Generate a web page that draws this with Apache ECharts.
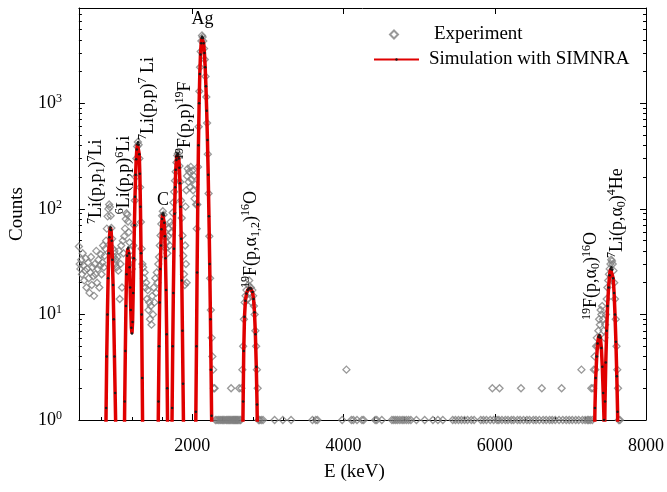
<!DOCTYPE html>
<html>
<head>
<meta charset="utf-8">
<script src="https://cdn.jsdelivr.net/npm/echarts@6/dist/echarts.min.js"></script>
<style>
    html, body { margin: 0; padding: 0; background: #fff; }
    #chart { width: 667px; height: 492px; }
</style>
</head>
<body>
<div id="chart"></div>
<script>
// ================* DATA *

// experiment, E (keV) / counts
var expLeft = [
    [500, 44], [510, 30], [520, 27], [530, 33], [540, 24], [550, 38], [560, 29], [570, 21], [580, 26], [590, 34],
    [600, 18], [610, 27], [620, 31], [630, 22], [640, 16], [650, 25], [660, 35], [670, 19], [680, 28], [690, 23],
    [700, 15], [710, 30], [720, 24], [730, 40], [740, 20], [750, 27], [760, 33], [770, 18], [780, 29], [790, 37],
    [800, 24], [810, 31], [820, 45], [830, 28], [840, 36], [850, 42],
    [860, 50], [870, 65], [880, 85], [890, 100], [900, 110], [910, 104], [920, 86], [930, 66], [940, 52], [950, 42],
    [960, 35], [970, 40], [980, 30], [990, 33], [1000, 28],
    [1010, 35], [1020, 26], [1030, 40], [1040, 14], [1050, 30], [1060, 45], [1070, 18], [1080, 50], [1090, 38], [1100, 55]
];

var expMid = [
    [1110, 65], [1120, 80], [1130, 91], [1140, 88], [1150, 76], [1160, 60], [1170, 48], [1180, 40], [1190, 32], [1200, 27],
    [1210, 33], [1220, 45], [1230, 70], [1240, 120], [1250, 200], [1260, 300], [1270, 390], [1280, 430], [1290, 405], [1300, 300],
    [1310, 160], [1320, 75], [1330, 42], [1340, 30],
    [1350, 28], [1360, 22], [1370, 25], [1380, 18], [1390, 20], [1400, 14], [1410, 17], [1420, 11], [1430, 13], [1440, 9],
    [1450, 12], [1460, 8], [1470, 15], [1480, 10], [1490, 18], [1500, 13], [1510, 22], [1520, 16], [1530, 25], [1540, 20],
    [1550, 30], [1560, 35], [1570, 45], [1580, 56], [1590, 72], [1600, 86], [1610, 95], [1620, 88], [1630, 70], [1640, 54],
    [1650, 42], [1660, 48], [1670, 38], [1680, 55], [1690, 65], [1700, 45], [1710, 75], [1720, 60],
    [1730, 70], [1740, 92], [1750, 115], [1760, 145], [1770, 185], [1780, 225], [1790, 275], [1800, 320], [1810, 335], [1820, 310],
    [1830, 255], [1840, 180], [1850, 120], [1860, 82], [1870, 56], [1880, 36], [1890, 24], [1900, 19]
];

var expHump = [
    [1905, 45], [1910, 105], [1915, 30], [1920, 150], [1925, 20], [1930, 205], [1940, 240], [1950, 180], [1960, 225], [1970, 160],
    [1980, 250], [1990, 190], [2000, 230], [2010, 150], [2020, 205], [2030, 125], [2040, 170], [2050, 110], [2058, 65]
];

var expAg = [
    [2066, 110], [2075, 250], [2084, 600], [2093, 1300], [2102, 2200], [2111, 3100], [2120, 3900], [2128, 4400], [2136, 4250], [2145, 3900],
    [2155, 3300], [2165, 2600], [2175, 1800], [2185, 1150], [2195, 650], [2205, 330], [2215, 140], [2225, 55], [2235, 22], [2245, 11],
    [2255, 6], [2265, 4], [2275, 3], [2285, 2], [2295, 2]
];

var expFlat = [
    [2306, 1], [2326, 1], [2345, 1], [2365, 1], [2380, 1], [2398, 1], [2412, 1], [2430, 1], [2448, 1], [2462, 1],
    [2478, 1], [2492, 1], [2505, 1], [2513, 2], [2522, 1], [2536, 1], [2548, 1], [2560, 1], [2572, 1], [2584, 1],
    [2596, 1], [2608, 1], [2620, 2], [2628, 1], [2640, 1],
    [2650, 2], [2662, 3], [2672, 5], [2682, 9], [2692, 13], [2704, 15], [2716, 17], [2728, 14], [2740, 19], [2752, 21],
    [2764, 16], [2774, 18], [2784, 13], [2794, 17], [2804, 15], [2814, 12], [2824, 10], [2834, 7], [2844, 5], [2854, 3],
    [2864, 2], [2876, 1], [2890, 1],
    [2912, 1], [2935, 1], [3088, 1], [3197, 1], [3306, 1], [3589, 1], [3633, 1], [3655, 1], [3982, 1], [4038, 3],
    [4104, 1], [4130, 1], [4178, 1], [4244, 1], [4266, 1], [4418, 1], [4440, 1], [4506, 1], [4640, 1], [4665, 1],
    [4690, 1], [4715, 1], [4745, 1], [4775, 1], [4800, 1], [4830, 1], [4860, 1], [4890, 1], [4964, 1], [5073, 1],
    [5182, 1], [5248, 1], [5313, 1], [5444, 1], [5480, 1], [5520, 1], [5560, 1], [5600, 1], [5640, 1], [5690, 1],
    [5727, 1], [5815, 1], [5850, 1], [5890, 1], [5940, 1], [5968, 2], [5985, 1], [6030, 1], [6054, 1], [6063, 2],
    [6095, 1], [6140, 1], [6175, 1], [6220, 1], [6250, 1], [6300, 1], [6335, 1], [6347, 2], [6380, 1], [6425, 1],
    [6460, 1], [6510, 1], [6545, 1], [6590, 1], [6622, 2], [6640, 1], [6680, 1], [6725, 1], [6760, 1], [6800, 1],
    [6850, 1], [6884, 2], [6900, 1], [6945, 1], [6985, 1], [7025, 1], [7070, 1], [7110, 1], [7146, 3], [7160, 1],
    [7195, 1], [7225, 1]
];

var expRight = [
    [7240, 1], [7262, 1], [7277, 2], [7290, 1], [7300, 2], [7310, 3], [7320, 4], [7330, 3], [7340, 5], [7350, 6],
    [7360, 5], [7370, 7], [7380, 9], [7390, 8], [7400, 11], [7410, 10], [7420, 12], [7430, 9], [7440, 7], [7450, 6],
    [7460, 8], [7470, 10], [7480, 14], [7490, 18], [7500, 21], [7510, 24], [7520, 27], [7530, 30], [7540, 33], [7550, 32],
    [7560, 30], [7570, 26], [7580, 20], [7590, 14], [7600, 9], [7610, 5], [7620, 3], [7630, 2], [7640, 1], [7655, 1]
];

// simulation (SIMNRA), one array per peak
var simLiP1 = [[852, 0.4], [860, 1.3], [868, 4], [877, 10], [886, 22], [895, 38], [904, 54], [912, 64], [918, 67], [925, 63],
    [934, 50], [943, 33], [952, 19], [961, 9], [970, 4], [979, 1.8], [988, 0.8], [995, 0.3]];
var simLi = [[1098, 0.4], [1106, 1.5], [1114, 4.5], [1122, 12], [1130, 24], [1138, 36], [1146, 42], [1154, 43], [1162, 38], [1170, 28],
    [1178, 18], [1186, 11], [1194, 7.5], [1202, 6.6], [1210, 8.5], [1218, 16], [1226, 34], [1234, 70], [1242, 130], [1250, 210],
    [1258, 295], [1266, 365], [1274, 410], [1282, 427], [1290, 405], [1298, 330], [1306, 215], [1314, 105], [1322, 38], [1330, 10],
    [1337, 2.5], [1343, 0.8], [1348, 0.3]];
var simC = [[1545, 0.4], [1552, 1.5], [1560, 5], [1568, 13], [1576, 27], [1584, 45], [1592, 64], [1600, 80], [1607, 89], [1614, 91],
    [1621, 87], [1629, 74], [1637, 55], [1645, 34], [1653, 17], [1661, 6.5], [1668, 2], [1674, 0.7], [1680, 0.3]];
var simF = [[1726, 0.4], [1733, 1.3], [1741, 5], [1749, 16], [1757, 42], [1765, 90], [1773, 160], [1781, 235], [1789, 290], [1797, 322],
    [1805, 332], [1813, 328], [1821, 300], [1829, 245], [1837, 175], [1845, 105], [1853, 52], [1861, 21], [1869, 7], [1877, 2.2],
    [1884, 0.8], [1890, 0.3]];
var simAg = [[2040, 0.4], [2047, 1.2], [2055, 5], [2063, 25], [2072, 110], [2081, 400], [2090, 1000], [2099, 1900], [2108, 2900], [2117, 3700],
    [2124, 4150], [2130, 4300], [2140, 4150], [2150, 3700], [2160, 3000], [2170, 2200], [2180, 1450], [2190, 850], [2200, 450], [2210, 210],
    [2220, 85], [2230, 30], [2240, 9], [2248, 3], [2255, 1.1], [2262, 0.4]];
var simFa12 = [[2664, 0.4], [2672, 1.5], [2680, 4.5], [2690, 9.5], [2702, 13.5], [2716, 15.8], [2732, 17], [2748, 17.6], [2764, 17.8], [2780, 17.5],
    [2796, 16.3], [2810, 14], [2822, 10.5], [2834, 6.5], [2846, 3.2], [2856, 1.4], [2866, 0.4]];
var simFa0 = [[7315, 0.4], [7325, 1.3], [7335, 2.5], [7348, 4], [7360, 5.3], [7372, 6.1], [7385, 6.4], [7397, 6], [7410, 4.8], [7422, 3.2],
    [7434, 1.8], [7445, 1], [7452, 0.4]];
var simLia0 = [[7448, 0.4], [7458, 1.5], [7468, 3.5], [7480, 7], [7492, 12], [7505, 18], [7518, 23.5], [7530, 27], [7542, 28], [7554, 26.5],
    [7566, 22], [7578, 16], [7590, 10], [7602, 5.5], [7614, 2.6], [7624, 1.2], [7632, 0.4]];

// ticks
var majorX = [2000, 4000, 6000, 8000];
var minorX = [800, 1200, 1600, 2400, 2800, 3200, 3600, 4400, 4800, 5200, 5600, 6400, 6800, 7200, 7600];
var majorY = [1, 10, 100, 1000];
var minorY = [2, 3, 4, 5, 6, 7, 8, 9, 20, 30, 40, 50, 60, 70, 80, 90, 200, 300, 400, 500, 600, 700, 800, 900,
    2000, 3000, 4000, 5000, 6000, 7000];

// peak labels, anchored at (E, counts)
var notes = [
    { text: '{p|7}{n|Li(p,p}{b|1}{n|)}{p|7}{n|Li}', at: [736, 72], rot: true },
    { text: '{p|6}{n|Li(p,p)}{p|6}{n|Li}', at: [1102, 89], rot: true },
    { text: '{p|7}{n|Li(p,p)}{p|7}{n| Li}', at: [1416, 449], rot: true },
    { text: '{p|19}{n|F(p,p)}{p|19}{n|F}', at: [1901, 290], rot: true },
    { text: '{p|19}{n|F(p,\u03b1}{b|1,2}{n|)}{p|16}{n|O}', at: [2778, 17.8], rot: true },
    { text: '{p|19}{n|F(p,\u03b1}{b|0}{n|)}{p|16}{n|O}', at: [7280, 8.85], rot: true },
    { text: '{p|7}{n|Li(p,\u03b1}{b|0}{n|)}{p|4}{n|He}', at: [7621, 34.2], rot: true },
    { text: '{n|C}', at: [1613, 121], rot: false },
    { text: '{n|Ag}', at: [2136, 6270], rot: false }
];

// ================* CHART *

var serif = 'Liberation Serif, Times New Roman, serif';
var black = '#000';

function withBreaks(parts) {
    var out = [];
    parts.forEach(function (p, i) {
        if (i > 0) out.push([p[0][0] - 1, '-']);
        out = out.concat(p);
    });
    return out;
}

function xAx(pos, ticks, len, showLine, showLabel) {
    return {
        type: 'value', min: 500, max: 8000, position: pos,
        axisLine: { show: showLine, onZero: false, lineStyle: { color: black, width: 1 } },
        axisTick: { inside: true, length: len, customValues: ticks, lineStyle: { color: black, width: 1 } },
        axisLabel: {
            show: showLabel, customValues: ticks, margin: 17, color: black, fontFamily: serif, fontSize: 18,
            formatter: function (v) { return String(v); }
        },
        splitLine: { show: false }
    };
}

function yAx(pos, ticks, len, showLine, showLabel) {
    return {
        type: 'log', logBase: 10, min: 1, max: 8000, position: pos,
        axisLine: { show: showLine, onZero: false, lineStyle: { color: black, width: 1 } },
        axisTick: { inside: true, length: len, customValues: ticks, lineStyle: { color: black, width: 1 } },
        axisLabel: {
            show: showLabel, customValues: ticks, margin: 17,
            formatter: function (v) {
                return '{b|10}{s|' + Math.round(Math.log10(v)) + '}';
            },
            rich: {
                b: { color: black, fontFamily: serif, fontSize: 18 },
                s: { color: black, fontFamily: serif, fontSize: 12, padding: [0, 0, 9, 0] }
            }
        },
        splitLine: { show: false },
        minorSplitLine: { show: false }
    };
}

var chart = echarts.init(document.getElementById('chart'), null, { renderer: 'canvas' });

var xAxes = [xAx('bottom', majorX, 6, true, true), xAx('bottom', minorX, 3, false, false), xAx('top', majorX, 6, true, false)];
xAxes[0].name = 'E (keV)';
xAxes[0].nameLocation = 'middle';
xAxes[0].nameGap = 43;
xAxes[0].nameTextStyle = { color: black, fontFamily: serif, fontSize: 19, padding: [0, 16, 0, 0] };

var yAxes = [yAx('left', majorY, 6, true, true), yAx('left', minorY, 3, false, false),
    yAx('right', majorY, 6, true, false), yAx('right', minorY, 3, false, false)];
yAxes[0].name = 'Counts';
yAxes[0].nameLocation = 'middle';
yAxes[0].nameGap = 46;
yAxes[0].nameTextStyle = { color: black, fontFamily: serif, fontSize: 19 };

var legendText = { color: black, fontFamily: serif, fontSize: 19 };

var option = {
    animation: false,
    backgroundColor: '#fff',
    grid: { left: 74, right: 20, top: 8, bottom: 72 },
    legend: [{
        left: 384,
        top: 20,
        itemWidth: 8,
        itemHeight: 8,
        textStyle: Object.assign({ padding: [0, 0, 0, 31] }, legendText),
        data: ['Experiment']
    }, {
        left: 368,
        top: 45,
        itemWidth: 45,
        itemHeight: 3,
        textStyle: Object.assign({ padding: [0, 0, 0, 5] }, legendText),
        data: ['Simulation with SIMNRA']
    }],
    xAxis: xAxes,
    yAxis: yAxes,
    series: [{
        name: 'Experiment',
        type: 'scatter',
        symbol: 'diamond',
        symbolSize: 7,
        clip: false,
        itemStyle: { color: 'rgba(255,255,255,0)', borderColor: '#808080', borderWidth: 1.3 },
        emphasis: { disabled: true },
        data: [].concat(expLeft, expMid, expHump, expAg, expFlat, expRight),
        z: 2
    }, {
        name: 'Simulation with SIMNRA',
        type: 'line',
        symbol: 'circle',
        symbolSize: 2.5,
        showSymbol: true,
        itemStyle: { color: '#1a1a1a' },
        lineStyle: { color: '#e00000', width: 3.5 },
        emphasis: { disabled: true },
        data: withBreaks([simLiP1, simLi, simC, simF, simAg, simFa12, simFa0, simLia0]),
        z: 3
    }]
};
chart.setOption(option);

// ---- peak labels
var noteRich = {
    n: { fill: black, fontFamily: serif, fontSize: 18 },
    p: { fill: black, fontFamily: serif, fontSize: 12, padding: [0, 0, 10, 0] },
    b: { fill: black, fontFamily: serif, fontSize: 12, padding: [9, 0, 0, 0] }
};
var graphics = notes.map(function (n) {
    var pt = chart.convertToPixel({ xAxisIndex: 0, yAxisIndex: 0 }, n.at);
    return {
        type: 'text',
        x: pt[0],
        y: pt[1],
        rotation: n.rot ? Math.PI / 2 : 0,
        z: 10,
        style: {
            text: n.text,
            rich: noteRich,
            fontFamily: serif,
            fontSize: 18,
            fill: black,
            align: n.rot ? 'left' : 'center',
            verticalAlign: 'middle'
        }
    };
});
chart.setOption({ graphic: graphics });
</script>
</body>
</html>
